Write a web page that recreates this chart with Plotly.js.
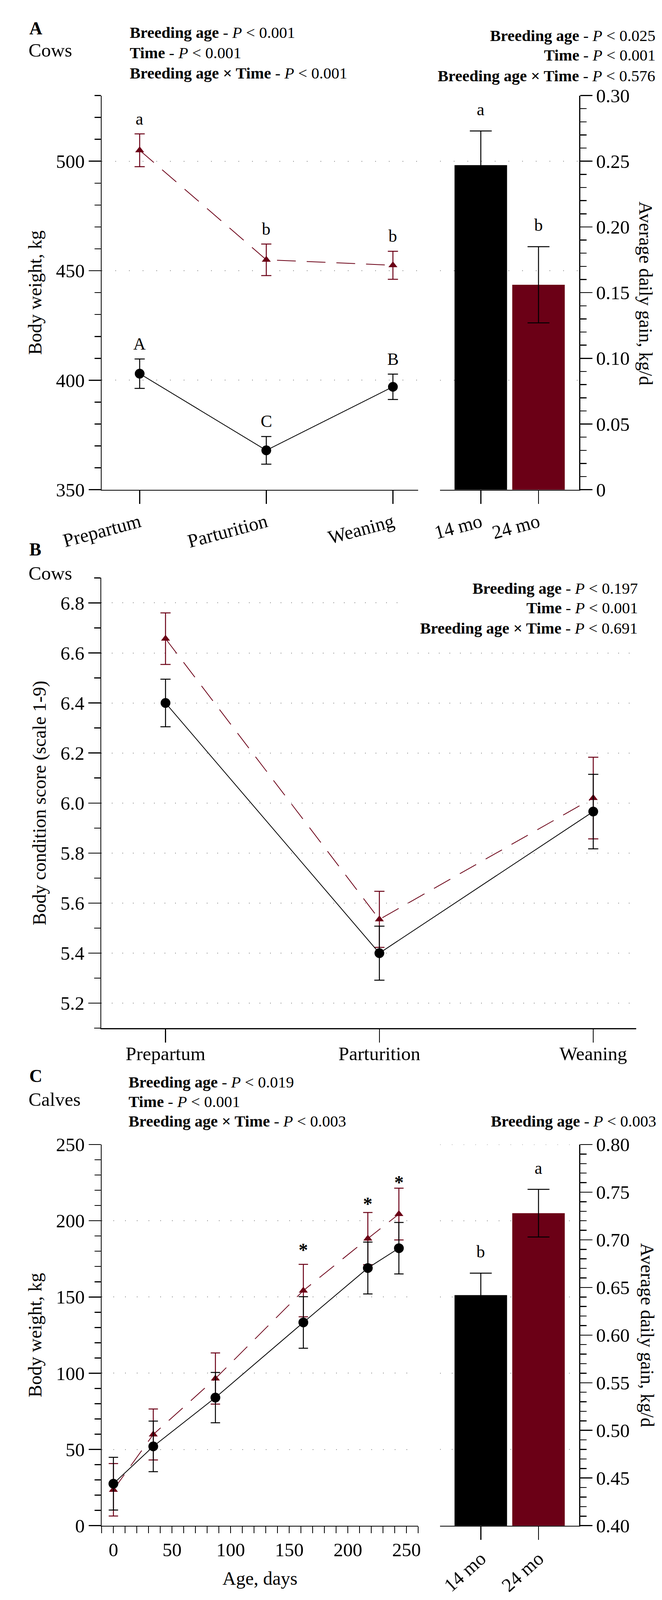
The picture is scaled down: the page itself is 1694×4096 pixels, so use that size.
<!DOCTYPE html>
<html><head><meta charset="utf-8">
<script src="https://cdn.plot.ly/plotly-3.0.1.min.js"></script>
<style>html,body{margin:0;padding:0;background:#fff}#chart{width:1694px;height:4096px}</style>
</head><body><div id="chart"></div>
<script>
// ---------------- data ----------------
const timepoints = ['Prepartum', 'Parturition', 'Weaning'];
const cowBW14 = [403, 368, 397];
const cowBW14Se = [6.7, 6.3, 5.8];
const cowBW24 = [505, 455, 452.5];
const cowBW24Se = [7.5, 7.2, 6.4];
const cowBW14Letters = ['A', 'C', 'B'];
const cowBW24Letters = ['a', 'b', 'b'];

const breedingAges = ['14 mo', '24 mo'];
const cowADG = [0.247, 0.156];
const cowADGSe = [0.026, 0.029];
const cowADGLetters = ['a', 'b'];

const cowBCS14 = [6.40, 5.40, 5.966];
const cowBCS14Se = [0.095, 0.108, 0.149];
const cowBCS24 = [6.657, 5.535, 6.02];
const cowBCS24Se = [0.103, 0.112, 0.163];

const calfAgeDays = [0, 34, 87, 162, 217, 243.5];
const calfBW14 = [27.5, 52, 84, 133.3, 169, 182];
const calfBW14Se = [17.3, 16.6, 16.5, 16.9, 17, 16.9];
const calfBW24 = [23.5, 59.8, 96.5, 154.2, 188.3, 204.4];
const calfBW24Se = [17.2, 16.7, 16.8, 17.2, 17.1, 17];
const calfStarAges = [162, 217, 243.5];
const calfStarY = [182.5, 212.8, 226.9];

const calfADG = [0.642, 0.728];
const calfADGSe = [0.023, 0.025];
const calfADGLetters = ['b', 'a'];

const pTextA_left = ['<b>Breeding age</b> - <i>P</i> &lt; 0.001', '<b>Time</b> - <i>P</i> &lt; 0.001', '<b>Breeding age × Time</b> - <i>P</i> &lt; 0.001'];
const pTextA_right = ['<b>Breeding age</b> - <i>P</i> &lt; 0.025', '<b>Time</b> - <i>P</i> &lt; 0.001', '<b>Breeding age × Time</b> - <i>P</i> &lt; 0.576'];
const pTextB = ['<b>Breeding age</b> - <i>P</i> &lt; 0.197', '<b>Time</b> - <i>P</i> &lt; 0.001', '<b>Breeding age × Time</b> - <i>P</i> &lt; 0.691'];
const pTextC_left = ['<b>Breeding age</b> - <i>P</i> &lt; 0.019', '<b>Time</b> - <i>P</i> &lt; 0.001', '<b>Breeding age × Time</b> - <i>P</i> &lt; 0.003'];
const pTextC_right = ['<b>Breeding age</b> - <i>P</i> &lt; 0.003'];

// ---------------- styling ----------------
const FONT = 'Liberation Serif, "Times New Roman", Times, serif';
const BLACK = '#000000';
const WINE = '#6b0016';
const GRIDC = '#8c8c8c';
const W = 2064, H = 4992;           // layout positions below are given in reference pixels
const px = v => v / W;
const py = v => 1 - v / H;

const xA = [px(317), px(1304)], xBar = [px(1372), px(1806)];
const yA = [py(1528), py(298)];
const xB = [px(316), px(1983)], yB = [py(3208), py(1803)];
const yC = [py(4760), py(3571)];

function ax(extra) {
  return Object.assign({
    showline: true, linecolor: BLACK, linewidth: 2.5, mirror: false,
    ticks: 'outside', tickcolor: BLACK, tickwidth: 2.5, ticklen: 31,
    tickfont: {family: FONT, size: 49, color: BLACK},
    showgrid: false, zeroline: false, fixedrange: true
  }, extra);
}
function minor(dtick, tick0) {
  return {ticks: 'outside', ticklen: 16, tickwidth: 2.5, tickcolor: BLACK, dtick: dtick, tick0: tick0, showgrid: false};
}
const grid = dash => ({showgrid: true, gridcolor: GRIDC, gridwidth: 2, griddash: dash});
const titleFont = {family: FONT, size: 48, color: BLACK};

const dashRed = '48px,28px';
function eb(arr, color, w) { return {type: 'data', array: arr, visible: true, color: color, thickness: 2.5, width: w}; }

const traces = [
  // Panel A - body weight
  {x: timepoints, y: cowBW24, xaxis: 'x', yaxis: 'y', mode: 'lines+markers', cliponaxis: false,
   line: {color: WINE, width: 2, dash: dashRed}, marker: {symbol: 'triangle-up', size: 20, color: WINE},
   error_y: eb(cowBW24Se, WINE, 13)},
  {x: timepoints, y: cowBW14, xaxis: 'x', yaxis: 'y', mode: 'lines+markers', cliponaxis: false,
   line: {color: BLACK, width: 2}, marker: {symbol: 'circle', size: 25, color: BLACK},
   error_y: eb(cowBW14Se, BLACK, 13)},
  // Panel A - ADG bars
  {type: 'bar', x: breedingAges, y: cowADG, xaxis: 'x2', yaxis: 'y2', width: 0.91,
   marker: {color: [BLACK, WINE], line: {width: 0}}, error_y: eb(cowADGSe, BLACK, 28)},
  // Panel B - BCS
  {x: timepoints, y: cowBCS24, xaxis: 'x3', yaxis: 'y3', mode: 'lines+markers', cliponaxis: false,
   line: {color: WINE, width: 2, dash: dashRed}, marker: {symbol: 'triangle-up', size: 20, color: WINE},
   error_y: eb(cowBCS24Se, WINE, 13)},
  {x: timepoints, y: cowBCS14, xaxis: 'x3', yaxis: 'y3', mode: 'lines+markers', cliponaxis: false,
   line: {color: BLACK, width: 2}, marker: {symbol: 'circle', size: 25, color: BLACK},
   error_y: eb(cowBCS14Se, BLACK, 13)},
  // Panel C - calves BW
  {x: calfAgeDays, y: calfBW24, xaxis: 'x4', yaxis: 'y4', mode: 'lines+markers', cliponaxis: false,
   line: {color: WINE, width: 2, dash: dashRed}, marker: {symbol: 'triangle-up', size: 20, color: WINE},
   error_y: eb(calfBW24Se, WINE, 12)},
  {x: calfAgeDays, y: calfBW14, xaxis: 'x4', yaxis: 'y4', mode: 'lines+markers', cliponaxis: false,
   line: {color: BLACK, width: 2}, marker: {symbol: 'circle', size: 25, color: BLACK},
   error_y: eb(calfBW14Se, BLACK, 12)},
  // Panel C - ADG bars
  {type: 'bar', x: breedingAges, y: calfADG, xaxis: 'x5', yaxis: 'y5', width: 0.91,
   marker: {color: [BLACK, WINE], line: {width: 0}}, error_y: eb(calfADGSe, BLACK, 28)}
];

const annotations = [];
function txt(text, x, y, xanchor, size, extra) {
  annotations.push(Object.assign({text: text, x: x, y: y, xref: 'paper', yref: 'paper', xanchor: xanchor, yanchor: 'middle',
    showarrow: false, align: xanchor === 'right' ? 'right' : 'left', font: {family: FONT, size: size, color: BLACK}}, extra || {}));
}
// panel headers
txt('<b>A</b>', px(89), py(88), 'left', 46);
txt('Cows', px(87), py(156), 'left', 49);
[101, 165, 228].forEach((yy, i) => txt(pTextA_left[i], px(402), py(yy), 'left', 41));
[111, 172, 236].forEach((yy, i) => txt(pTextA_right[i], px(2046), py(yy), 'right', 41));
txt('<b>B</b>', px(89), py(1714), 'left', 46);
txt('Cows', px(87), py(1788), 'left', 49);
[1835, 1896, 1960].forEach((yy, i) => txt(pTextB[i], px(1991), py(yy), 'right', 41));
txt('<b>C</b>', px(89), py(3357), 'left', 46);
txt('Calves', px(87), py(3430), 'left', 49);
[3376, 3437, 3498].forEach((yy, i) => txt(pTextC_left[i], px(399), py(yy), 'left', 41));
txt(pTextC_right[0], px(2048), py(3498), 'right', 41);
// right axis titles (read top to bottom)
txt('Average daily gain, kg/d', px(2013), py(915), 'center', 48, {textangle: 90});
txt('Average daily gain, kg/d', px(2018), py(4165), 'center', 48, {textangle: 90});

// significance letters
function letters(xs, ys, ses, labs, xr, yr, shift) {
  labs.forEach((l, i) => annotations.push({text: l, x: xs[i], y: ys[i] + ses[i], xref: xr, yref: yr,
    xanchor: 'center', yanchor: 'bottom', yshift: shift, showarrow: false, font: {family: FONT, size: 44, color: BLACK}}));
}
letters(timepoints, cowBW24, cowBW24Se, cowBW24Letters, 'x', 'y', 12);
letters(timepoints, cowBW14, cowBW14Se, cowBW14Letters, 'x', 'y', 12);
letters(breedingAges, cowADG, cowADGSe, cowADGLetters, 'x2', 'y2', 28);
letters(breedingAges, calfADG, calfADGSe, calfADGLetters, 'x5', 'y5', 28);
calfStarAges.forEach((a, i) => annotations.push({text: '<b>*</b>', x: a, y: calfStarY[i], xref: 'x4', yref: 'y4',
  xanchor: 'center', yanchor: 'middle', yshift: -6, showarrow: false, font: {family: FONT, size: 48, color: BLACK}}));

// dotted guide lines of the left axis continued through the bar panels
const shapes = [];
const gridDashA = '2px,33px', gridDashB = '2px,25px', gridDashC = '2px,28px';
for (let v = 400; v <= 500; v += 50) shapes.push({type: 'line', xref: 'paper', x0: xBar[0], x1: xBar[1], yref: 'y', y0: v, y1: v, layer: 'below', line: {color: GRIDC, width: 2, dash: gridDashA}});
for (let v = 50; v <= 250; v += 50) shapes.push({type: 'line', xref: 'paper', x0: xBar[0], x1: xBar[1], yref: 'y4', y0: v, y1: v, layer: 'below', line: {color: GRIDC, width: 2, dash: gridDashC}});
// white block behind the P-value text in panel B (hides the top grid line there)
shapes.push({type: 'rect', xref: 'paper', yref: 'paper', x0: px(1255), x1: px(1990), y0: py(1990), y1: py(1806), layer: 'above', fillcolor: '#ffffff', line: {width: 0}});

const layout = {
  width: 1694, height: 4096, margin: {l: 0, r: 0, t: 0, b: 0},
  paper_bgcolor: '#ffffff', plot_bgcolor: 'rgba(0,0,0,0)', showlegend: false,
  font: {family: FONT, color: BLACK},
  xaxis: ax({domain: xA, anchor: 'y', type: 'category', range: [-0.3, 2.2], tickangle: -15, ticklen: 34}),
  yaxis: ax(Object.assign({domain: yA, anchor: 'x', range: [350, 530], tick0: 350, dtick: 50, minor: minor(10, 350),
    title: {text: 'Body weight, kg', font: titleFont, standoff: 22}}, grid(gridDashA))),
  xaxis2: ax({domain: xBar, anchor: 'y2', type: 'category', range: [-0.706, 1.706], tickangle: -15, ticklen: 34}),
  yaxis2: ax({domain: yA, anchor: 'x2', side: 'right', range: [0, 0.30], tick0: 0, dtick: 0.05, tickformat: '.2f',
    labelalias: {'0.00': '0'}, minor: minor(0.01, 0)}),
  xaxis3: ax({domain: xB, anchor: 'y3', type: 'category', range: [-0.3, 2.2], tickangle: 0, ticklen: 34, ticklabelstandoff: -14}),
  yaxis3: ax(Object.assign({domain: yB, anchor: 'x3', range: [5.1, 6.9], tick0: 5.2, dtick: 0.2, tickformat: '.1f', minor: minor(0.1, 5.1),
    title: {text: 'Body condition score (scale 1-9)', font: titleFont, standoff: 22}}, grid(gridDashB))),
  xaxis4: ax({domain: xA, anchor: 'y4', range: [-10, 260], tick0: 0, dtick: 50, ticklen: 17,
    minor: {ticks: 'outside', ticklen: 17, tickwidth: 2.5, tickcolor: BLACK, dtick: 10, tick0: 0, showgrid: false},
    title: {text: 'Age, days', font: titleFont, standoff: 30}}),
  yaxis4: ax(Object.assign({domain: yC, anchor: 'x4', range: [0, 250], tick0: 0, dtick: 50, minor: minor(10, 0),
    title: {text: 'Body weight, kg', font: titleFont, standoff: 22}}, grid(gridDashC))),
  xaxis5: ax({domain: xBar, anchor: 'y5', type: 'category', range: [-0.706, 1.706], tickangle: -42, ticklen: 34}),
  yaxis5: ax({domain: yC, anchor: 'x5', side: 'right', range: [0.4, 0.8], tick0: 0.4, dtick: 0.05, tickformat: '.2f', minor: minor(0.01, 0.4)}),
  annotations: annotations,
  shapes: shapes
};

Plotly.newPlot('chart', traces, layout, {staticPlot: true, displayModeBar: false});
</script>
</body></html>
